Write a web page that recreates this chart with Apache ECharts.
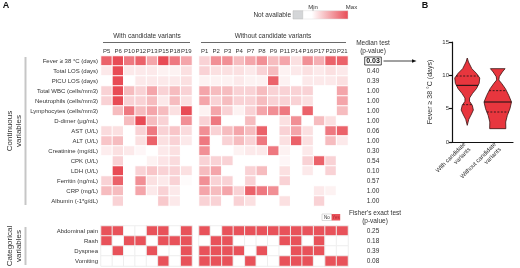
<!DOCTYPE html>
<html lang="en" style="height: 100%">
<head>
<meta charset="utf-8">
<title>Candidate variants heatmap and fever violin</title>
</head>
<body style="height: 100%; margin: 0; background: #fff">
<div id="container" style="width: 520px; height: 268px"></div>
<script type="text/javascript" src="https://cdn.jsdelivr.net/npm/echarts/dist/echarts.min.js"></script>
<script type="text/javascript">
var dom = document.getElementById('container');
var myChart = echarts.init(dom, null, { renderer: 'canvas' });

// patients
var withIds = ['P5', 'P6', 'P10', 'P12', 'P13', 'P15', 'P18', 'P19'];
var withoutIds = ['P1', 'P2', 'P3', 'P4', 'P7', 'P8', 'P9', 'P11', 'P14', 'P16', 'P17', 'P20', 'P21'];

// continuous variables (relative level 0 = min .. 4 = max, null = not available)
var contVars = ['Fever \u2265 38 \u00b0C (days)', 'Total LOS (days)', 'PICU LOS (days)', 'Total WBC (cells/mm3)',
  'Neutrophils (cells/mm3)', 'Lymphocytes (cells/mm3)', 'D-dimer (\u03bcg/mL)', 'AST (U/L)', 'ALT (U/L)',
  'Creatinine (mg/dL)', 'CPK (U/L)', 'LDH (U/L)', 'Ferritin (ng/mL)', 'CRP (mg/L)', 'Albumin (-1*g/dL)'];
var medianP = ['0.03', '0.40', '0.39', '1.00', '1.00', '1.00', '1.00', '0.06', '1.00', '0.30', '0.54', '0.10', '0.57', '1.00', '1.00'];

var contWith = [
  [3.5, 4, 3, 3.5, 2, 4, 3, 2],
  [0.5, 4, 0.5, 0.5, 0.5, 0.3, 0.3, 0.7],
  [0, 4, 0, 0.5, 0.5, 0.5, 0.5, 0.7],
  [1, 4, 1.5, 1, 2, 1, 1.5, 1],
  [1, 4, 1, 1, 1.5, 0.5, 1.5, 0.7],
  [null, 1.5, 3, 1.5, 2, 1.5, 0.7, 4],
  [null, null, 1.5, 4, 1.5, 1, null, 2.5],
  [0.8, 0.7, null, 1, 3, 1, 1.3, 0.8],
  [1.3, 1.5, null, 0.7, 3.5, 0.7, 1, 0.5],
  [0.4, 0.7, 0.5, 0.2, null, 0.5, 0.7, null],
  [null, 1, null, null, 0.3, 0.6, 0.8, null],
  [null, 4, null, 1, 1.3, 1, 1, 0.7],
  [1, 3.5, null, 2.5, 0.7, 0.5, 1, 0.1],
  [1.5, 1.5, null, 2, 0.5, 1, 0.5, 0],
  [null, 1, null, null, null, 1.2, 0.5, null]
];
var contWithout = [
  [1, 2.5, 2.5, 1.5, 2, 2.5, 1.5, 2, 0.7, 2.5, 1.8, 3.5, 3.5],
  [1, 0.7, 0.7, 0.7, 0.5, 1, 1.5, 0.3, 0.5, 0.7, 0.5, 0.7, 0.5],
  [0.3, 0.3, 0.3, 0.5, 0.3, 0.3, 3.5, 0.3, 0, 0.5, 0.5, 0.5, 0.7],
  [2, 1.5, 1.5, 1, 1, 1.5, 1, 1, 1, 1, null, null, 2],
  [2, 1, 1.5, 1, 1, 1.5, 1, 1, 1, 0.7, null, null, 2],
  [0.3, 2, 1, 0.3, 1, 2, 2.5, 3, 0, 3.5, null, null, 1.5],
  [1, 3, null, null, 1.5, null, null, 0.7, 2.5, null, 1.5, 0.7, null],
  [2.5, 1, 1.5, 2, 1.5, 3.5, null, 1, 2, 0.7, null, 3, 3.5],
  [3, 0, 1, 1.5, 1, 3, null, 0.7, 3.5, 0.7, null, 1.5, 0.5],
  [2.5, null, null, 0.3, 0.5, 0.5, 3, 0.3, null, 0.5, null, 0, null],
  [1, 1, 1, null, null, null, null, 0.2, null, 1, 3.5, 1, null],
  [1.5, 2, null, null, 1, 1.5, null, 0.7, null, 0.5, null, 1, null],
  [2.5, 1, 1, 0, 1, null, null, 1, null, null, null, null, null],
  [2, 1.5, 2, 1, 3.5, 3, 2.5, 0, null, null, 0.5, 0.3, null],
  [1, 1, null, 1, 0.7, null, null, 0.7, null, 0, 1, null, null]
];

// categorical variables (1 = yes, 0 = no)
var catVars = ['Abdominal pain', 'Rash', 'Dyspnea', 'Vomiting'];
var fisherP = ['0.25', '0.18', '0.39', '0.08'];
var catWith = [
  [1, 1, 0, 0, 1, 1, 0, 1],
  [1, 0, 1, 1, 0, 1, 1, 1],
  [0, 1, 0, 0, 1, 0, 0, 1],
  [0, 0, 0, 0, 0, 1, 0, 1]
];
var catWithout = [
  [1, 0, 1, 1, 1, 1, 1, 1, 1, 1, 1, 1, 1],
  [0, 1, 1, 0, 0, 0, 0, 1, 1, 0, 1, 0, 0],
  [1, 1, 1, 1, 0, 1, 0, 0, 1, 1, 1, 0, 0],
  [1, 1, 1, 0, 1, 0, 0, 1, 1, 1, 0, 1, 1]
];

// violin plot (panel B): [days, relative density]
var violinGroups = ['With candidate\nvariants', 'Without candidate\nvariants'];
var violinWith = [[12.6, 0], [12, 0.08], [11, 0.3], [10.3, 0.6], [9.6, 0.82], [8.8, 0.78], [8, 0.6], [7.3, 0.35],
  [6.6, 0.15], [6.1, 0.15], [5.5, 0.33], [4.8, 0.4], [4.2, 0.28], [3.4, 0.1], [2.5, 0]];
var violinWithout = [[11, 0.48], [10.5, 0.3], [9.8, 0.1], [9.3, 0.07], [8.8, 0.25], [8, 0.5], [7, 0.72], [6, 0.9],
  [5, 0.8], [4, 0.63], [3, 0.52], [2, 0.53]];
var violinQuart = [[5.6, 8.5, 9.9], [4.5, 6.0, 7.7]]; // q1, median, q3

var FONT = 'Liberation Sans, Arial, sans-serif';
var TXT = '#333';

function cells(m) {
  var out = [];
  m.forEach(function (row, r) {
    row.forEach(function (v, c) {
      out.push([c, r, v == null ? -1 : v]);
    });
  });
  return out;
}

function widthAt(prof, v) {
  for (var k = 0; k < prof.length - 1; k++) {
    var a = prof[k], b = prof[k + 1];
    if (v <= a[0] && v >= b[0]) {
      var t = (a[0] - v) / (a[0] - b[0]);
      return a[1] + t * (b[1] - a[1]);
    }
  }
  return 0;
}

var profiles = [violinWith, violinWithout];

function renderViolin(params, api) {
  var i = params.dataIndex;
  var prof = profiles[i];
  var half = api.size([1, 0])[0] / 2;
  var cx = api.coord([i, 0])[0];
  var pts = [];
  prof.forEach(function (p) { pts.push([cx - p[1] * half, api.coord([i, p[0]])[1]]); });
  prof.slice().reverse().forEach(function (p) { pts.push([cx + p[1] * half, api.coord([i, p[0]])[1]]); });
  var kids = [{
    type: 'polygon', shape: { points: pts },
    style: { fill: '#e8363e', stroke: '#3a1212', lineWidth: 0.8 }
  }];
  violinQuart[i].forEach(function (q, k) {
    var w = widthAt(prof, q) * half;
    var y = api.coord([i, q])[1];
    kids.push({
      type: 'line', shape: { x1: cx - w, y1: y, x2: cx + w, y2: y },
      style: { stroke: '#111', lineWidth: k === 1 ? 1 : 0.8, lineDash: k === 1 ? null : [2, 1.5] }
    });
  });
  return { type: 'group', children: kids };
}

function txt(text, x, y, opt) {
  opt = opt || {};
  return {
    type: 'text', x: x, y: y, rotation: opt.rotation || 0, silent: true,
    style: {
      text: text, fill: opt.color || TXT, fontSize: opt.size || 6.5, fontFamily: FONT,
      fontWeight: opt.weight || 'normal', lineHeight: opt.lineHeight,
      align: opt.align || 'center', verticalAlign: 'middle',
      textAlign: opt.align || 'center', textVerticalAlign: 'middle'
    }
  };
}
function ln(x1, y1, x2, y2, color, w) {
  return { type: 'line', silent: true, shape: { x1: x1, y1: y1, x2: x2, y2: y2 }, style: { stroke: color, lineWidth: w } };
}

var hideAxis = { axisLine: { show: false }, axisTick: { show: false }, splitLine: { show: false } };
function catX(grid, ids, showLabels) {
  return Object.assign({
    gridIndex: grid, type: 'category', data: ids, position: 'top',
    axisLabel: { show: showLabels, fontSize: 6, margin: 2, color: TXT, fontFamily: FONT, interval: 0 }
  }, hideAxis);
}
function catY(grid, names, side, formatter) {
  return Object.assign({
    gridIndex: grid, type: 'category', data: names, inverse: true, position: side,
    axisLabel: side === 'left'
      ? { fontSize: 6, margin: 3, color: TXT, fontFamily: FONT, interval: 0 }
      : {
          fontSize: 6.5, margin: 25, align: 'center', color: TXT, fontFamily: FONT, interval: 0,
          formatter: formatter,
          rich: { b: { fontSize: 7, fontWeight: 'bold', color: '#111', fontFamily: FONT,
            borderColor: '#222', borderWidth: 0.8, padding: [1, 1.5, 0, 1.5] } }
        }
  }, hideAxis);
}

var option = {
  animation: false,
  grid: [
    { left: 101, top: 56, width: 91, height: 150 },
    { left: 199, top: 56, width: 149, height: 150 },
    { left: 101, top: 226, width: 91, height: 40 },
    { left: 199, top: 226, width: 149, height: 40 },
    { left: 452, top: 42, width: 61, height: 100 }
  ],
  xAxis: [
    catX(0, withIds, true),
    catX(1, withoutIds, true),
    catX(2, withIds, false),
    catX(3, withoutIds, false),
    {
      gridIndex: 4, type: 'category', data: violinGroups,
      axisLine: { lineStyle: { color: '#111', width: 1.2 } },
      axisTick: { alignWithLabel: true, length: 3, lineStyle: { color: '#111', width: 1.2 } },
      axisLabel: { rotate: 45, fontSize: 6, lineHeight: 7, margin: 4, color: TXT, fontFamily: FONT, interval: 0 }
    }
  ],
  yAxis: [
    catY(0, contVars, 'left'),
    catY(1, contVars, 'right', function (v, i) { return i === 0 ? '{b|' + medianP[i] + '}' : medianP[i]; }),
    catY(2, catVars, 'left'),
    catY(3, catVars, 'right', function (v, i) { return fisherP[i]; }),
    {
      gridIndex: 4, type: 'value', min: 0, max: 15, interval: 5,
      name: 'Fever \u2265 38 \u00b0C (days)', nameLocation: 'middle', nameGap: 18,
      nameTextStyle: { fontSize: 7, color: TXT, fontFamily: FONT },
      axisLine: { show: true, lineStyle: { color: '#111', width: 1.2 } },
      axisTick: { show: true, length: 3, lineStyle: { color: '#111', width: 1.2 } },
      axisLabel: { fontSize: 6, margin: 3, color: TXT, fontFamily: FONT },
      splitLine: { show: false }
    }
  ],
  visualMap: [
    { type: 'continuous', show: false, seriesIndex: [0, 1], min: 0, max: 4,
      inRange: { color: ['#ffffff', '#e84b55'] }, outOfRange: { color: '#d4d6d8' } },
    { type: 'piecewise', show: false, seriesIndex: [2, 3],
      pieces: [{ value: 0, color: '#ffffff' }, { value: 1, color: '#e8525a' }] }
  ],
  series: [
    { type: 'heatmap', xAxisIndex: 0, yAxisIndex: 0, data: cells(contWith),
      itemStyle: { borderColor: '#fff', borderWidth: 1 }, emphasis: { disabled: true } },
    { type: 'heatmap', xAxisIndex: 1, yAxisIndex: 1, data: cells(contWithout),
      itemStyle: { borderColor: '#fff', borderWidth: 1 }, emphasis: { disabled: true } },
    { type: 'heatmap', xAxisIndex: 2, yAxisIndex: 2, data: cells(catWith),
      itemStyle: { borderColor: '#eeeeee', borderWidth: 1 }, emphasis: { disabled: true } },
    { type: 'heatmap', xAxisIndex: 3, yAxisIndex: 3, data: cells(catWithout),
      itemStyle: { borderColor: '#eeeeee', borderWidth: 1 }, emphasis: { disabled: true } },
    { type: 'custom', xAxisIndex: 4, yAxisIndex: 4, clip: false, renderItem: renderViolin,
      encode: { x: 0, y: 1 },
      data: violinGroups.map(function (g, i) { return [i, violinQuart[i][1]]; }) }
  ],
  graphic: [
    txt('A', 6, 6, { size: 9, weight: 'bold', color: '#111' }),
    txt('B', 425, 6, { size: 9, weight: 'bold', color: '#111' }),
    // side group bars
    ln(25.5, 57, 25.5, 205, '#c6c6c6', 2),
    ln(25.5, 227, 25.5, 265, '#c6c6c6', 2),
    txt('Continuous\nvariables', 14, 131, { size: 8, lineHeight: 9, rotation: Math.PI / 2 }),
    txt('Categorical\nvariables', 14, 246, { size: 8, lineHeight: 9, rotation: Math.PI / 2 }),
    // group headers
    txt('With candidate variants', 147, 36, { size: 6.5 }),
    ln(103, 42.5, 190, 42.5, '#444', 0.8),
    txt('Without candidate variants', 273, 36, { size: 6.5 }),
    ln(201, 42.5, 346, 42.5, '#444', 0.8),
    // test headers
    txt('Median test\n(p-value)', 373, 47, { size: 6.5, lineHeight: 7.5 }),
    txt("Fisher's exact test\n(p-value)", 375, 217, { size: 6.5, lineHeight: 8 }),
    // arrow to violin
    ln(383.5, 61, 413, 61, '#111', 0.8),
    { type: 'polygon', silent: true, shape: { points: [[412, 59.2], [416.5, 61], [412, 62.8]] }, style: { fill: '#111' } },
    // colour legend
    txt('Not available', 291, 15, { size: 6.5, align: 'right' }),
    { type: 'rect', silent: true, shape: { x: 293, y: 10.7, width: 10, height: 8.3 }, style: { fill: '#d4d6d8', stroke: '#bbb', lineWidth: 0.5 } },
    { type: 'rect', silent: true, shape: { x: 303, y: 10.7, width: 45, height: 8.3 },
      style: { stroke: '#ddd', lineWidth: 0.5, fill: new echarts.graphic.LinearGradient(0, 0, 1, 0,
        [{ offset: 0, color: '#ffffff' }, { offset: 0.2, color: '#ffffff' }, { offset: 1, color: '#e84b55' }]) } },
    ln(313, 8.5, 313, 10.7, '#666', 0.6),
    txt('Min', 313, 7, { size: 6 }),
    txt('Max', 351.5, 7, { size: 6 }),
    // yes/no legend
    { type: 'rect', silent: true, shape: { x: 322, y: 214, width: 9.7, height: 6.5 }, style: { fill: '#fff', stroke: '#bbb', lineWidth: 0.5 } },
    { type: 'rect', silent: true, shape: { x: 331.7, y: 214, width: 8.5, height: 6.5 }, style: { fill: '#e8525a' } },
    txt('No', 326.8, 217.3, { size: 4.5, color: '#333' }),
    txt('Yes', 336, 217.3, { size: 4.5, color: '#b8262e' })
  ]
};

myChart.setOption(option);
window.addEventListener('resize', myChart.resize);
</script>
</body>
</html>
